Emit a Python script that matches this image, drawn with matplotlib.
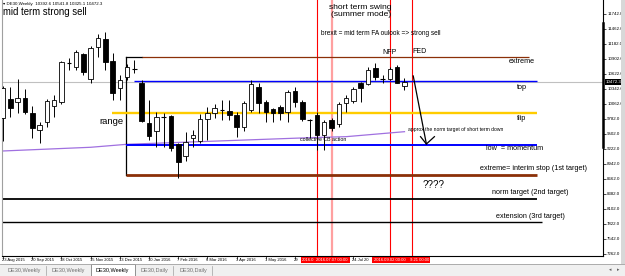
import numpy as np
import matplotlib.pyplot as plt
from matplotlib.patches import Rectangle
import matplotlib.transforms as mtransforms

plt.rcParams['font.family'] = ['Liberation Sans', 'DejaVu Sans']

# DE30 weekly candles, week 0 = 23 Aug 2015
opens  = [9801, 10150, 10094, 10168, 9889, 9570, 9720, 10020, 10094, 10822,
          10747, 10990, 10520, 11120, 11275, 10870, 10355, 10560, 10715, 10460,
          9702, 9555, 9820, 9838, 9315, 9098, 9423, 9377, 9782, 9888,
          9955, 9937, 9856, 9638, 9950, 10385, 10094, 9962, 10000, 9918,
          10310, 10105, 9770, 9856, 9482, 9763, 9690, 10075, 10124, 10448,
          10435, 10728, 10540, 10530, 10760, 10392.6]
highs  = [10400, 10385, 10523, 10342, 10025, 9720, 10150, 10230, 10860, 10920,
          11070, 11020, 11150, 11368, 11412, 11008, 10603, 10800, 10883, 10510,
          10137, 9918, 9888, 9850, 9330, 9545, 9575, 9875, 10000, 10070,
          10137, 10137, 9918, 10110, 10510, 10448, 10137, 9980, 10050, 10330,
          10385, 10137, 9790, 9918, 9763, 9800, 10100, 10230, 10380, 10480,
          10750, 10822, 10600, 10760, 10790, 10541.8]
lows   = [9380, 9825, 9888, 9875, 9420, 9330, 9638, 9825, 10060, 10700,
          10700, 10600, 10460, 10945, 10697, 10137, 10137, 10510, 10635, 9732,
          9390, 9253, 9265, 9180, 8675, 8990, 9265, 9330, 9390, 9793,
          9763, 9763, 9452, 9560, 9918, 9888, 9732, 9732, 9770, 9720,
          10013, 9745, 9430, 9200, 9200, 9560, 9630, 9918, 10080, 10105,
          10410, 10510, 10460, 10510, 10450, 10325.1]
closes = [10361, 9993, 10180, 9918, 9608, 9665, 10118, 10137, 10840, 10830,
          11027, 10665, 11102, 11288, 10852, 10273, 10510, 10758, 10705, 9745,
          9470, 9825, 9825, 9235, 8985, 9360, 9485, 9782, 9900, 9980,
          9945, 9856, 9638, 10075, 10430, 10075, 9918, 9888, 9900, 10292,
          10105, 9777, 9755, 9482, 9732, 9608, 10062, 10168, 10335, 10355,
          10697, 10560, 10530, 10715, 10460, 10472.3]
last_price = 10472.3

# slow moving average (purple), read at a few weeks
ma_weeks  = [0, 12, 17, 42, 47, 55]
ma_values = [9185, 9254, 9310, 9433, 9452, 9545]

# date labels every 4 weeks (only the part left visible by the event boxes)
label_weeks = [0, 4, 8, 12, 16, 20, 24, 28, 32, 36, 40, 48]
label_text  = ['23 Aug 2015', '20 Sep 2015', '18 Oct 2015', '15 Nov 2015',
               '13 Dec 2015', '10 Jan 2016', '7 Feb 2016', '6 Mar 2016',
               '3 Apr 2016', '1 May 2016', '29', '24 Jul 20']

# event lines (brexit, pale one, NFP, FED)
vline_weeks = [43, 45, 53, 56]
vline_colors = ['#ff0000', '#ffa0a0', '#ff0000', '#ff0000']
vline_widths = [0.8, 1.6, 0.8, 0.8]
# date boxes as shown (partly covered ones trimmed)
box_text = ['2016.0', '2016.07.07 00:00', '2016.09.02 00:00', '9.21 00:00']

# price axis ticks
ytick_values = [11742, 11462, 11182, 10902, 10622, 10342, 10062, 9782, 9502,
                9222, 8942, 8662, 8382, 8102, 7822, 7542, 7262]

# drawn levels: value, x start, x end (weeks), color, width
levels = {
    'extreme':  (10945, 19.0, 72.0, '#8b3008', 0.9),
    'top':      (10500, 17.9, 73.1, '#0000ff', 1.0),
    'flip':     (9900, 14.9, 73.1, '#ffcc00', 1.7),
    'low':      (9302, 16.8, 73.1, '#0000ff', 1.4),
    'interim':  (8737, 16.8, 73.1, '#8b3008', 2.0),
    'norm':     (8294, -0.2, 73.1, '#000000', 1.3),
    'ext':      (7865, -0.2, 73.9, '#000000', 1.0),
}
box_left = 16.8

W, H = 625, 276
X0, X1 = -0.15, 82.2
AX_L, AX_W = 2, 601
fig = plt.figure(figsize=(W / 100, H / 100), dpi=100)
ax = fig.add_axes([AX_L / W, 20 / H, AX_W / W, 256 / H])
ax.set_xlim(X0, X1)
ax.set_ylim(7224.6, 12003)


def px(wk):
    return AX_L + (wk - X0) / (X1 - X0) * AX_W


# candles
w = 0.62
for i, (o, h, l, c) in enumerate(zip(opens, highs, lows, closes)):
    ax.vlines(i, l, h, color='black', lw=0.7, zorder=3)
    if abs(c - o) < 25:
        ax.hlines((o + c) / 2, i - w / 2, i + w / 2, color='black', lw=0.8, zorder=4)
    else:
        fc = 'white' if c > o else 'black'
        ax.add_patch(Rectangle((i - w / 2, min(o, c)), w, abs(c - o),
                               fc=fc, ec='black', lw=0.6, zorder=4))

# current price line
ax.axhline(last_price, color='#c0c0c0', lw=0.8, zorder=0.5)

# moving average
ax.plot(ma_weeks, ma_values, color='#a070e0', lw=0.9, zorder=2)

# levels
for name, (v, x0, x1, col, lw) in levels.items():
    ax.plot([x0, x1], [v, v], color=col, lw=lw, zorder=2.5, solid_capstyle='butt')
# range box (left edge and top)
ax.plot([box_left, box_left], [levels['interim'][0], levels['extreme'][0]], color='black', lw=0.9, zorder=2.4)
ax.plot([box_left, levels['extreme'][1]], [levels['extreme'][0]] * 2, color='black', lw=0.9, zorder=2.4)

# event lines
for wk, col, lw in zip(vline_weeks, vline_colors, vline_widths):
    ax.axvline(wk, color=col, lw=lw, zorder=1)

# arrow
ax.plot([56.2, 58.0], [10585, 9315], color='black', lw=0.9, zorder=5)
ax.plot([57.2, 58.0, 59.1], [9452, 9315, 9452], color='black', lw=0.9, zorder=5)

# annotations
fs = 5.2
ax.text(71.1, 10846, 'extreme', fontsize=fs, ha='center', va='center')
ax.text(71.1, 10361, 'top', fontsize=fs, ha='center', va='center')
ax.text(71.1, 9782, 'flip', fontsize=fs, ha='center', va='center')
ax.text(70.1, 9222, 'low  = momentum', fontsize=fs, ha='center', va='center')
ax.text(65.3, 8849, 'extreme= interim stop (1st target)', fontsize=fs, ha='left', va='center')
ax.text(67.0, 8419, 'norm target (2nd target)', fontsize=fs, ha='left', va='center')
ax.text(67.5, 7971, 'extension (3rd target)', fontsize=fs, ha='left', va='center')
ax.text(57.5, 8550, '????', fontsize=7, ha='left', va='center')
ax.text(14.9, 9726, 'range', fontsize=6.8, ha='center', va='center')
ax.text(55.5, 9577, 'approx the norm target of short term down', fontsize=3.6, ha='left', va='center')
ax.text(40.7, 9390, 'collective CB action', fontsize=3.8, ha='left', va='center')
ax.text(52.0, 11014, 'NFP', fontsize=5, ha='left', va='center')
ax.text(56.1, 11051, 'FED', fontsize=5, ha='left', va='center')
ax.text(49.0, 11798, 'short term swing\n(summer mode)', fontsize=6.1, ha='center', va='center', linespacing=0.85)
ax.text(51.8, 11378, 'brexit = mid term FA oulook => strong sell', fontsize=4.7, ha='center', va='center')
ax.text(0.002, 0.953, 'mid term strong sell', fontsize=6.9, transform=ax.transAxes, ha='left', va='center')
ax.text(0.002, 0.986, '\u25be DE30,Weekly  10392.6 10541.8 10325.1 10472.3', fontsize=3.2,
        transform=ax.transAxes, ha='left', va='center')

# axes styling
ax.spines['top'].set_visible(False)
ax.spines['left'].set_color('#a0a0a0')
ax.spines['left'].set_linewidth(0.8)
ax.spines['bottom'].set_linewidth(0.8)
ax.spines['right'].set_linewidth(0.8)
ax.yaxis.tick_right()
ax.set_yticks(ytick_values)
ax.set_yticklabels([f'{v:.1f}' for v in ytick_values])
ax.tick_params(axis='y', length=2, width=0.5, labelsize=3.2, pad=1)
ax.set_xticks(label_weeks)
ax.set_xticklabels([])
ax.tick_params(axis='x', length=2, width=0.5)

yt = mtransforms.blended_transform_factory(ax.transAxes, ax.transData)

# current price tag and marker on price axis
ax.text(1.004, last_price, f'{last_price:.1f}', transform=yt, fontsize=3.2, color='white',
        ha='left', va='center', clip_on=False,
        bbox=dict(boxstyle='square,pad=0.2', fc='black', ec='none'))
ax.plot([1, 1], [11574, 9259], transform=yt, color='black', lw=1.8, clip_on=False)

# terminal chrome, in pixels
pix = fig.add_axes([0, 0, 1, 1])
pix.set_xlim(0, W)
pix.set_ylim(H, 0)
pix.axis('off')
pix.patch.set_alpha(0)

# time labels
for wk, t in zip(label_weeks, label_text):
    pix.text(px(wk) - 1, 260, t, fontsize=3.0, ha='left', va='center')

# event date boxes
half = 18
b1 = (px(vline_weeks[0]) - 16, px(vline_weeks[1]) - half)
b2 = (px(vline_weeks[1]) - half, px(vline_weeks[1]) + half)
b3 = (px(vline_weeks[2]) - half, px(vline_weeks[2]) + half)
b4 = (px(vline_weeks[2]) + half, px(vline_weeks[3]) + half)
for (l, r), t, ha in zip([b1, b2, b3, b4], box_text, ['left', 'center', 'center', 'right']):
    pix.add_patch(Rectangle((l, 257.3), r - l, 5.4, fc='#ff0000', ec='none'))
    tx = {'left': l + 1, 'center': (l + r) / 2, 'right': r - 1}[ha]
    pix.text(tx, 260, t, fontsize=3.0, ha=ha, va='center', color='white')

pix.add_patch(Rectangle((0, 264), W, 12, fc='#f0f0f0', ec='none'))
pix.add_patch(Rectangle((621, 0), 4, 264, fc='#d8d8d8', ec='none'))
pix.plot([0, W], [264, 264], color='#a0a0a0', lw=0.6)
pix.add_patch(Rectangle((91, 264), 44, 12, fc='white', ec='#808080', lw=0.6))
tabs = ['DE30,Weekly', 'DE30,Weekly', 'DE30,Weekly', 'DE30,Daily', 'DE30,Daily']
tab_x = [24, 68, 112, 154, 193]
for tx, t in zip(tab_x, tabs):
    pix.text(tx, 270.5, t, fontsize=4.0, ha='center', va='center',
             color='black' if tx == 112 else '#707070')
for sx in [46, 173, 212]:
    pix.plot([sx, sx], [266, 275], color='#a0a0a0', lw=0.5)
pix.text(610, 270, '\u25c2', fontsize=3.5, ha='center', va='center', color='#606060')
pix.text(618, 270, '\u25b8', fontsize=3.5, ha='center', va='center', color='#606060')

fig.savefig('out.png', dpi=100)
